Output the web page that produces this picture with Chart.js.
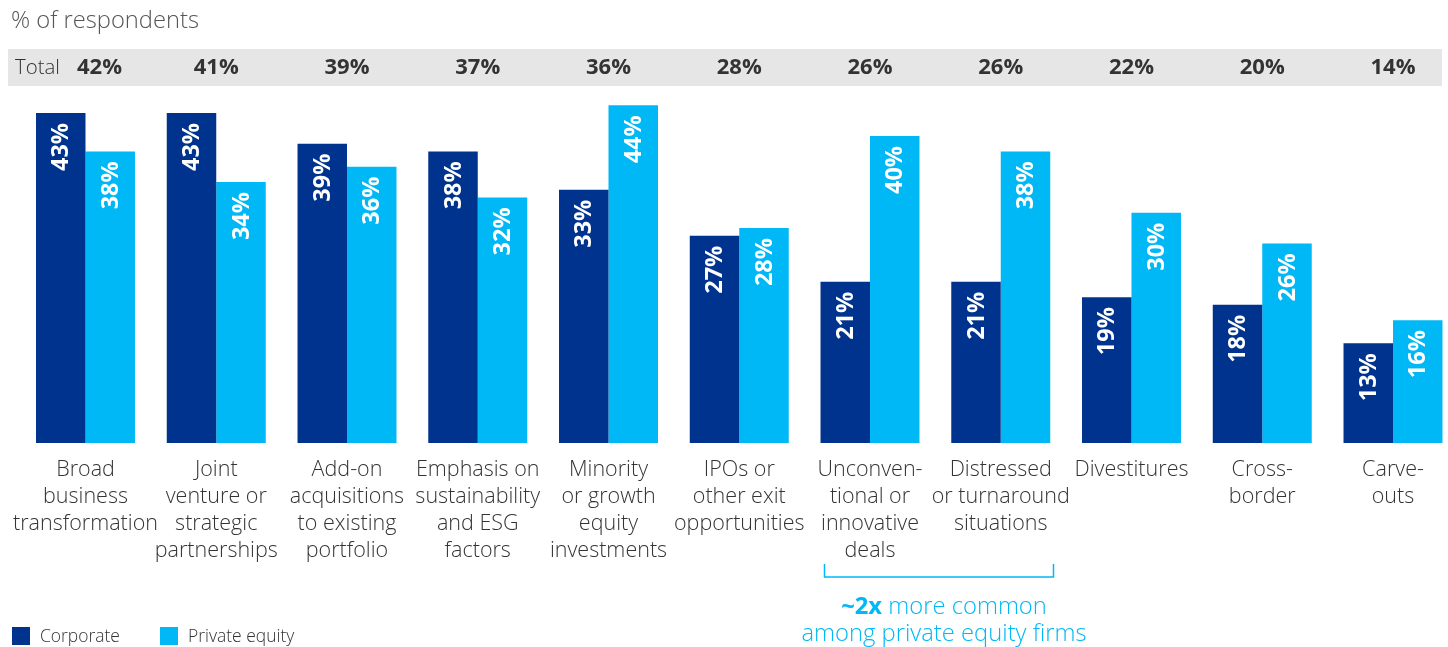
<!DOCTYPE html>
<html><head><meta charset="utf-8">
<script src="https://cdn.jsdelivr.net/npm/chart.js@4/dist/chart.umd.min.js"></script>
<style>html,body{margin:0;padding:0;background:#fff;overflow:hidden}#wrap{position:relative;width:1448px;height:647px}</style>
</head><body><div id="wrap"><canvas id="c" width="1448" height="647"></canvas></div>
<script>
const categories = [
  ["Broad","business","transformation"],
  ["Joint","venture or","strategic","partnerships"],
  ["Add-on","acquisitions","to existing","portfolio"],
  ["Emphasis on","sustainability","and ESG","factors"],
  ["Minority","or growth","equity","investments"],
  ["IPOs or","other exit","opportunities"],
  ["Unconven-","tional or","innovative","deals"],
  ["Distressed","or turnaround","situations"],
  ["Divestitures"],
  ["Cross-","border"],
  ["Carve-","outs"]
];
const corporate = [43, 43, 39, 38, 33, 27, 21, 21, 19, 18, 13];
const privateEquity = [38, 34, 36, 32, 44, 28, 40, 38, 30, 26, 16];
const totals = [42, 41, 39, 37, 36, 28, 26, 26, 22, 20, 14];
const seriesNames = ["Corporate", "Private equity"];
const C_DARK = "#00338d", C_LIGHT = "#00b8f5";
const FONT = "'Open Sans'";

// choose a font size so that a sample string spans a given width
function fit(ctx, weight, sample, target) {
  ctx.font = `${weight} 20px ${FONT}`;
  const w = ctx.measureText(sample).width;
  return `${weight} ${(20 * target / w).toFixed(2)}px ${FONT}`;
}

const decor = {
  id: "decor",
  beforeDatasetsDraw(chart) {
    const ctx = chart.ctx, x = chart.scales.x;
    ctx.save();
    ctx.fillStyle = "#555";
    ctx.font = fit(ctx, 300, "% of respondents", 188);
    ctx.textBaseline = "middle"; ctx.textAlign = "left";
    ctx.fillText("% of respondents", 11, 21);
    ctx.fillStyle = "#e6e6e6";
    ctx.fillRect(8, 49, 1434, 37);
    ctx.fillStyle = "#333";
    ctx.font = fit(ctx, 300, "Total", 45);
    ctx.fillText("Total", 15, 68);
    ctx.font = fit(ctx, "bold", "42%", 45);
    ctx.textAlign = "center";
    totals.forEach((t, i) => {
      let px = x.getPixelForValue(i);
      if (i === 0) px += 14;
      ctx.fillText(t + "%", px, 68);
    });
    ctx.restore();
  },
  afterDatasetsDraw(chart) {
    const ctx = chart.ctx, x = chart.scales.x;
    ctx.save();
    ctx.fillStyle = "#fff";
    ctx.font = fit(ctx, "bold", "43%", 48);
    chart.data.datasets.forEach((ds, di) => {
      chart.getDatasetMeta(di).data.forEach((bar, i) => {
        ctx.save();
        ctx.translate(bar.x, bar.y + 10);
        ctx.rotate(-Math.PI / 2);
        ctx.textAlign = "right"; ctx.textBaseline = "middle";
        ctx.fillText(ds.data[i] + "%", 0, 1);
        ctx.restore();
      });
    });
    ctx.fillStyle = "#333";
    ctx.font = fit(ctx, 300, "transformation", 145);
    ctx.textAlign = "center"; ctx.textBaseline = "middle";
    categories.forEach((lines, i) => {
      const px = x.getPixelForValue(i);
      lines.forEach((l, j) => ctx.fillText(l, px, 470 + j * 27));
    });
    ctx.strokeStyle = C_LIGHT; ctx.lineWidth = 1.5;
    ctx.beginPath();
    ctx.moveTo(824.5, 564); ctx.lineTo(824.5, 577); ctx.lineTo(1053.5, 577); ctx.lineTo(1053.5, 564);
    ctx.stroke();
    ctx.fillStyle = C_LIGHT;
    const light = fit(ctx, 300, "among private equity firms", 285);
    const bold = light.replace(/^300/, "bold");
    const b = "~2x", r = " more common";
    ctx.font = bold; const bw = ctx.measureText(b).width;
    ctx.font = light; const rw = ctx.measureText(r).width;
    const sx = 944 - (bw + rw) / 2;
    ctx.textAlign = "left";
    ctx.font = bold; ctx.fillText(b, sx, 607);
    ctx.font = light; ctx.fillText(r, sx + bw, 607);
    ctx.textAlign = "center";
    ctx.fillText("among private equity firms", 944, 634);
    ctx.textAlign = "left";
    ctx.font = fit(ctx, 300, "Corporate", 80);
    ctx.fillStyle = C_DARK; ctx.fillRect(12, 627, 18, 18);
    ctx.fillStyle = C_LIGHT; ctx.fillRect(160, 627, 18, 18);
    ctx.fillStyle = "#333";
    ctx.fillText(seriesNames[0], 40, 637);
    ctx.fillText(seriesNames[1], 188, 637);
    ctx.restore();
  }
};

new Chart(document.getElementById("c"), {
  type: "bar",
  data: {
    labels: categories.map(c => c.join(" ")),
    datasets: [
      { label: seriesNames[0], data: corporate, backgroundColor: C_DARK, clip: false },
      { label: seriesNames[1], data: privateEquity, backgroundColor: C_LIGHT, clip: false }
    ]
  },
  options: {
    responsive: false, animation: false,
    layout: { padding: { left: 85.5, right: 55, top: 86, bottom: 204 } },
    categoryPercentage: 0.757, barPercentage: 1.0,
    plugins: { legend: { display: false }, tooltip: { enabled: false } },
    scales: {
      x: { display: false, offset: false, grid: { display: false } },
      y: { display: false, min: 0, max: 46.52 }
    }
  },
  plugins: [decor]
});
</script></body></html>
